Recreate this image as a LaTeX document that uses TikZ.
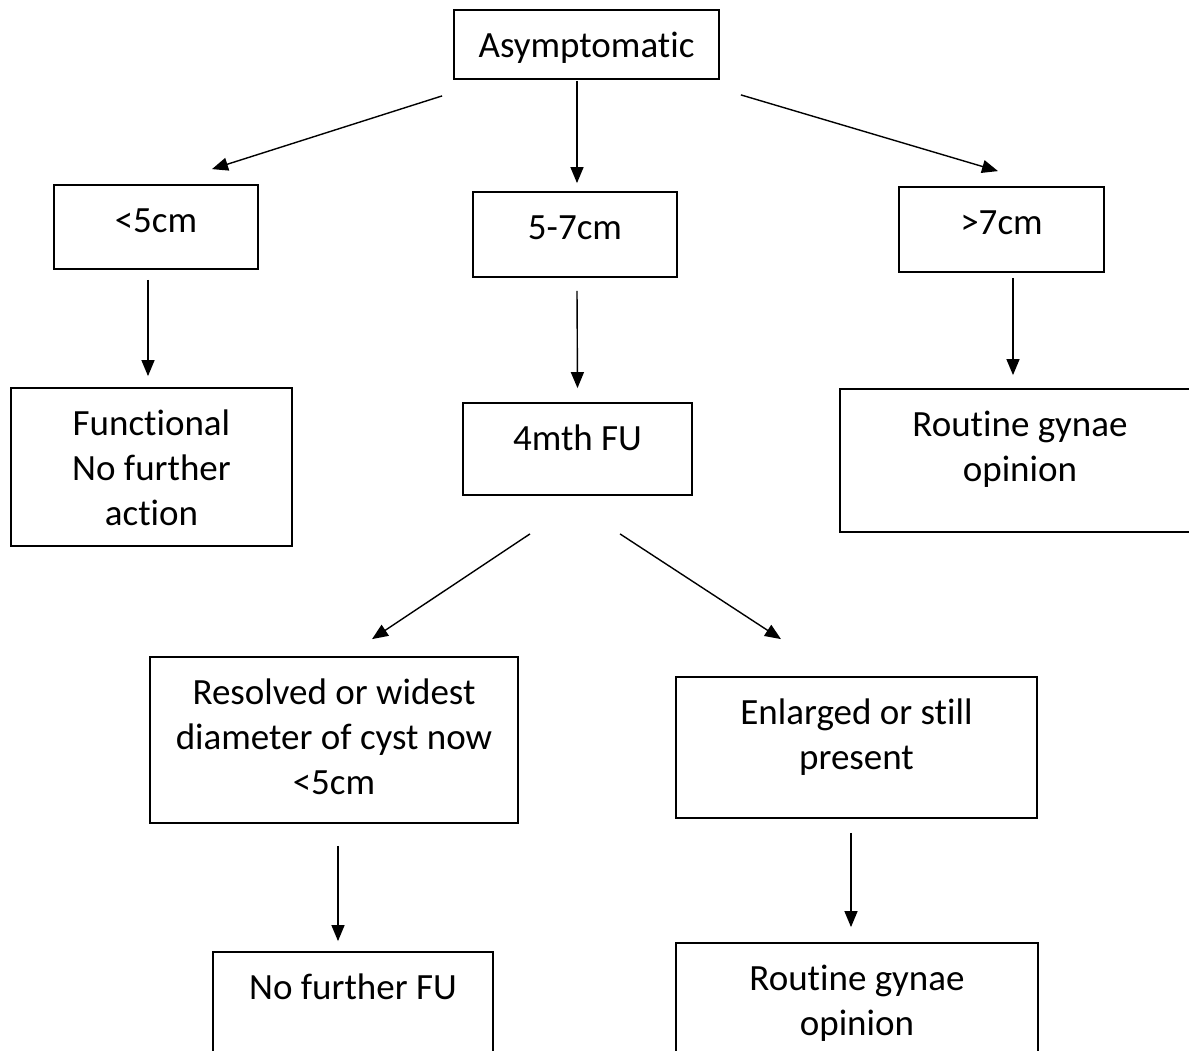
\documentclass[tikz,border=0pt]{standalone}
\usepackage{fontspec}
\setmainfont[Ligatures=NoCommon]{Carlito}
\usetikzlibrary{arrows.meta}
\newcommand{\boxtxt}[3]{\parbox[c][#2pt][t]{#1pt}{\centering\rule{0pt}{47pt}#3}}
\begin{document}
\begin{tikzpicture}[x=1pt,y=-1pt,
  box/.style={draw,line width=1.8pt,inner sep=0pt,font=\fontsize{37}{45}\selectfont},
  arr/.style={draw,line width=1.4pt,-{Triangle[length=16pt,width=13pt]}}]
\useasboundingbox (0,0) rectangle (1189,1050);
\clip (0,0) rectangle (1189,1050);

\node[box] (a) at (586.5,44.5) {\boxtxt{265}{69}{Asymptomatic}};

\node[box] (b) at (156,227) {\boxtxt{204}{84}{<5cm}};
\node[box] (c) at (575,234.5) {\boxtxt{204}{85}{5-7cm}};
\node[box] (d) at (1001.5,229.5) {\boxtxt{205}{85}{>7cm}};

\node[box] (e) at (151.5,467) {\boxtxt{281}{158}{Functional\\No further\\action}};
\node[box] (f) at (577.5,449) {\boxtxt{229}{92}{4mth FU}};
\node[box] (g) at (1020,460.5) {\boxtxt{360}{143}{Routine gynae\\opinion}};

\node[box] (h) at (334,740) {\boxtxt{368}{166}{Resolved or widest\\diameter of cyst now\\<5cm}};
\node[box] (k) at (856.5,747.5) {\boxtxt{361}{141}{Enlarged or still\\present}};

\node[box] (m) at (353,1012) {\boxtxt{280}{120}{No further FU}};
\node[box] (n) at (857,1003) {\boxtxt{362}{120}{Routine gynae\\opinion}};

\path[arr] ([shift={(-11,16)}]a.south west) -- ([shift={(56,-15)}]b.north);
\path[arr] ([shift={(-9.5,1)}]a.south) -- ([shift={(2,-8)}]c.north);
\path[arr] ([shift={(21,15)}]a.south east) -- ([shift={(-3.5,-15)}]d.north);

\path[arr] ([shift={(-8,10)}]b.south) -- ([shift={(-3.5,-11)}]e.north);
\path[arr] ([shift={(2,13)}]c.south) -- ([shift={(0,-14)}]f.north);
\path[arr] ([shift={(11.5,5)}]d.south) -- ([shift={(-7,-13)}]g.north);

\path[arr] ([shift={(-47.5,38)}]f.south) -- ([shift={(38,-17)}]h.north);
\path[arr] ([shift={(42.5,38)}]f.south) -- ([shift={(-75.5,-37)}]k.north);

\path[arr] ([shift={(4,22)}]h.south) -- ([shift={(-15,-10)}]m.north);
\path[arr] ([shift={(-5.5,14)}]k.south) -- ([shift={(-6,-15)}]n.north);
\end{tikzpicture}
\end{document}
